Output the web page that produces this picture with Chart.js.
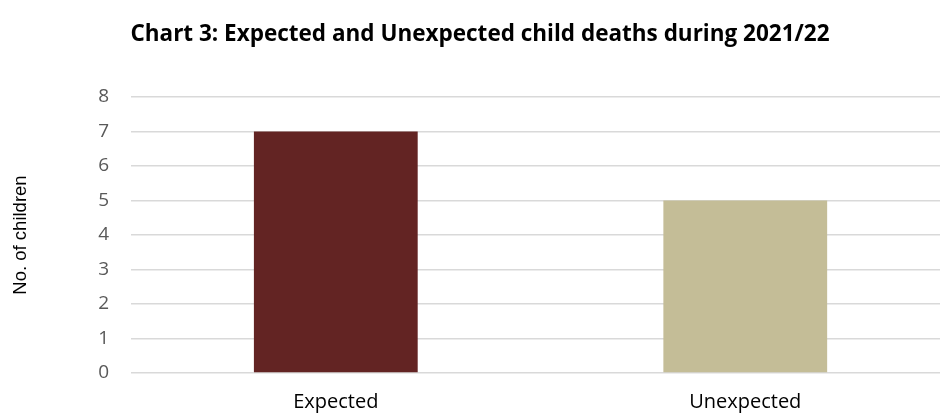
<!DOCTYPE html>
<html>
<head>
<meta charset="utf-8">
<script src="https://cdn.jsdelivr.net/npm/chart.js@4/dist/chart.umd.min.js"></script>
<style>
  html, body { margin: 0; padding: 0; background: #fff; overflow: hidden; }
  #wrap { position: relative; width: 960px; height: 416px; }
</style>
</head>
<body>
<div id="wrap"><canvas id="chart"></canvas></div>
<script>
const categories = ["Expected", "Unexpected"];
const childDeaths = [7, 5];
const barColors = ["#632423", "#C4BD97"];
const yTicks = [0, 1, 2, 3, 4, 5, 6, 7, 8];

const ctx = document.getElementById("chart");

const chart = new Chart(ctx, {
  type: "bar",
  data: {
    labels: categories,
    datasets: [
      {
        label: "No. of children",
        data: childDeaths,
        backgroundColor: barColors,
        borderWidth: 0,
        barPercentage: 0.4,
        categoryPercentage: 1,
      },
    ],
  },
  options: {
    responsive: true,
    maintainAspectRatio: false,
    animation: false,
    layout: {
      padding: { left: 10, right: 10, top: 0, bottom: 0 },
    },
    plugins: {
      legend: { display: false },
      tooltip: { enabled: false },
      title: {
        display: true,
        text: "Chart 3: Expected and Unexpected child deaths during 2021/22",
        color: "#000",
        font: { family: "'Open Sans'", size: 22.5, weight: "bold" },
        padding: { top: 21, bottom: 49 },
      },
    },
    scales: {
      x: {
        grid: { display: false, drawTicks: false, tickLength: 0 },
        border: { display: false },
        ticks: {
          color: "#000",
          font: { family: "'Open Sans'", size: 20, lineHeight: 0.5 },
          padding: 24,
        },
        afterFit: (axis) => {
          axis.height = 43;
        },
      },
      y: {
        min: 0,
        max: 8,
        afterBuildTicks: (axis) => {
          axis.ticks = yTicks.map((v) => ({ value: v }));
        },
        grid: { color: "#d9d9d9", lineWidth: 1.5, drawTicks: false },
        border: { display: false },
        ticks: {
          color: "#595959",
          font: { family: "'Open Sans'", size: 19 },
          padding: 22,
        },
        title: {
          display: true,
          text: "No. of children",
          color: "#000",
          font: { family: "'Liberation Sans'", size: 18.5 },
          padding: { top: 0, bottom: 44 },
        },
      },
    },
  },
});
</script>
</body>
</html>
